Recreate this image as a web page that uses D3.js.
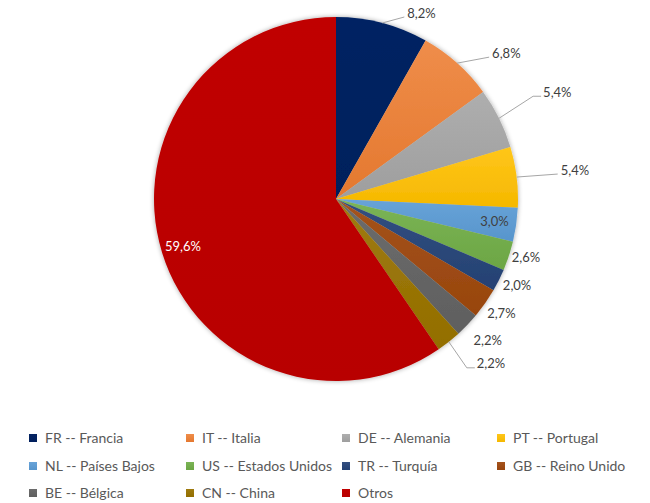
<!DOCTYPE html>
<html><head><meta charset="utf-8">
<script src="https://cdn.jsdelivr.net/npm/d3@7"></script>
<style>body{margin:0;background:#fff;}svg{display:block;font-family:Lato,"Open Sans",sans-serif;}</style>
</head><body>
<svg id="chart" width="650" height="503"></svg>
<script>
const categories = ["FR -- Francia","IT -- Italia","DE -- Alemania","PT -- Portugal","NL -- Países Bajos","US -- Estados Unidos","TR -- Turquía","GB -- Reino Unido","BE -- Bélgica","CN -- China","Otros"];
const values = [8.2,6.8,5.4,5.4,3.0,2.6,2.0,2.7,2.2,2.2,59.6];
const labels = ["8,2%","6,8%","5,4%","5,4%","3,0%","2,6%","2,0%","2,7%","2,2%","2,2%","59,6%"];
const colors = ["#002060","#ED7D31","#A5A5A5","#FFC000","#5B9BD5","#70AD47","#264478","#9E480E","#636363","#997300","#C00000"];

// label layout (offset of text from slice edge point; null = inside)
const labelLayout = [
  {dx:25,dy:-10,leader:true},
  {dx:35,dy:-10,leader:true},
  {dx:44,dy:-26,leader:true,elbow:true},
  {dx:44,dy:-7,leader:true},
  null,
  {dx:3,dy:1},
  {dx:4,dy:5},
  {dx:2,dy:10},
  {dx:6,dy:16},
  {dx:28,dy:22,leader:true,elbow:true},
  null
];

const svg = d3.select("#chart");
const cx = 336, cy = 199, R = 182;
const defs = svg.append("defs");
const f = defs.append("filter").attr("id","sh").attr("x","-20%").attr("y","-20%").attr("width","140%").attr("height","140%");
f.append("feGaussianBlur").attr("in","SourceAlpha").attr("stdDeviation",2.5).attr("result","b");
f.append("feComponentTransfer").attr("in","b").attr("result","o2").append("feFuncA").attr("type","linear").attr("slope",0.35);
const m = f.append("feMerge"); m.append("feMergeNode").attr("in","o2"); m.append("feMergeNode").attr("in","SourceGraphic");

const lighten = [0.02,0.12,0.1,0.1,0.08,0.08,0.06,0.06,0.06,0.06,0.0];
colors.forEach((c,i)=>{
  const g = defs.append("linearGradient").attr("id","g"+i).attr("x1",0).attr("y1",0).attr("x2",0).attr("y2",1);
  g.append("stop").attr("offset","0%").attr("stop-color",d3.interpolateRgb(c,"#fff")(lighten[i]));
  g.append("stop").attr("offset","100%").attr("stop-color",d3.interpolateRgb(c,"#000")(0.04));
});

const pie = d3.pie().sort(null).value(d=>d)(values);
const arc = d3.arc().innerRadius(0).outerRadius(R);
const g = svg.append("g").attr("transform",`translate(${cx},${cy})`);
g.append("g").attr("filter","url(#sh)").selectAll("path").data(pie).join("path")
  .attr("d",arc).attr("fill",(d,i)=>`url(#g${i})`);

pie.forEach((d,i)=>{
  const a = (d.startAngle+d.endAngle)/2;
  const ex = R*Math.sin(a), ey = -R*Math.cos(a);
  const L = labelLayout[i];
  if(!L){
    const r2 = R*0.88;
    g.append("text").attr("x",r2*Math.sin(a)).attr("y",-r2*Math.cos(a)).attr("dy","0.35em")
      .attr("text-anchor","middle").attr("font-size",13)
      .attr("fill", i===10 ? "#fff" : "#404040").text(labels[i]);
    return;
  }
  const tx = ex+L.dx, ty = ey+L.dy;
  if(L.leader){
    let pts;
    if(L.elbow){
      pts = [[ex,ey],[tx-10,ty+4],[tx-2,ty+4]];
    } else {
      pts = [[ex,ey],[tx-3,ty+4]];
    }
    g.append("path").attr("d",d3.line()(pts)).attr("fill","none").attr("stroke","#A6A6A6").attr("stroke-width",1);
  }
  g.append("text").attr("x",tx).attr("y",ty).attr("dy","0.35em").attr("font-size",13)
    .attr("fill","#404040").text(labels[i]);
});

// legend
const colX = [29,186,342,497], rowY = [438,466,493];
const lg = svg.append("g");
categories.forEach((c,i)=>{
  const col = i%4, row = Math.floor(i/4);
  const x = colX[col], y = rowY[row];
  lg.append("rect").attr("x",x).attr("y",y-4).attr("width",8).attr("height",8).attr("fill",`url(#g${i})`);
  lg.append("text").attr("x",x+16).attr("y",y).attr("dy","0.35em").attr("font-size",14).attr("fill","#595959").text(c);
});
</script>
</body></html>
